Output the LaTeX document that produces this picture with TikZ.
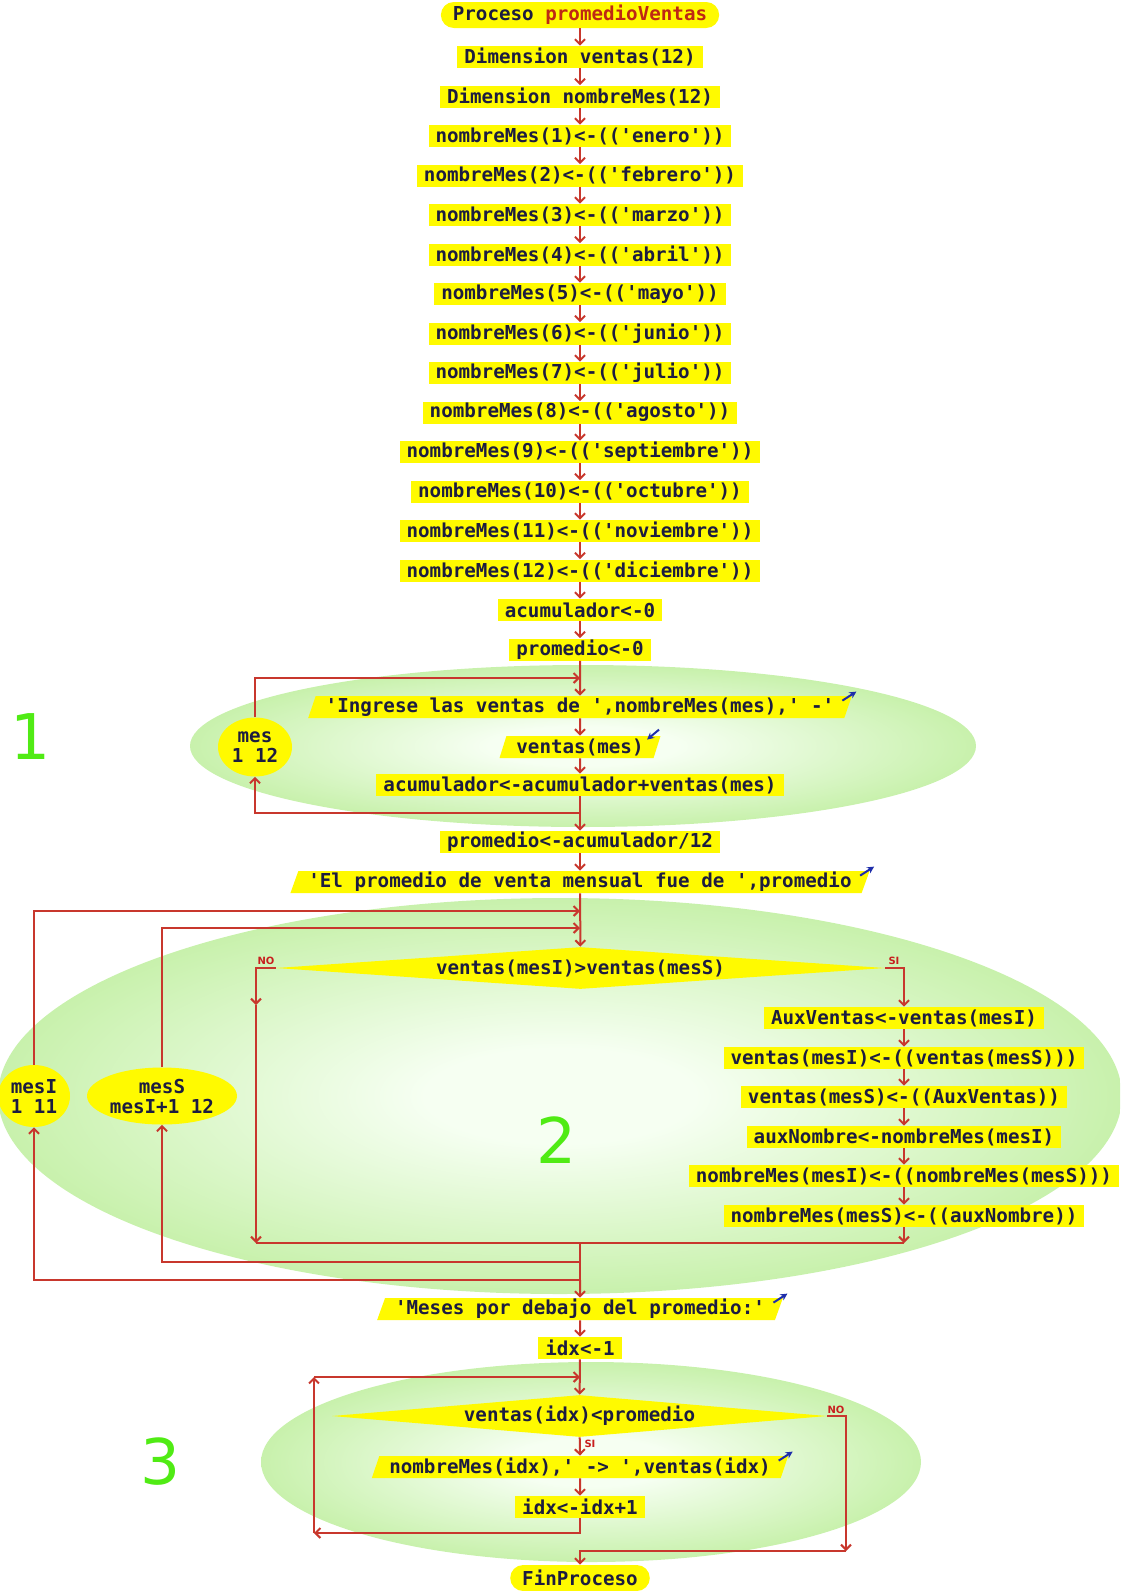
\documentclass[tikz,border=0pt]{standalone}
\usepackage{fontspec}
\setmonofont{DejaVu Sans Mono}
\setsansfont{DejaVu Sans}
\usetikzlibrary{shapes.geometric,arrows.meta}

\definecolor{boxy}{RGB}{255,250,0}
\definecolor{ink}{RGB}{28,28,64}
\definecolor{flow}{RGB}{200,55,45}
\definecolor{kw}{RGB}{190,40,20}
\definecolor{io}{RGB}{30,45,170}
\definecolor{num}{RGB}{80,235,20}
\definecolor{tagred}{RGB}{200,30,30}
\definecolor{gin}{RGB}{246,255,242}
\definecolor{gout}{RGB}{200,241,172}

% soft green glow behind each loop
\pgfdeclareradialshading{glow}{\pgfpoint{0bp}{0bp}}{color(0bp)=(gin); color(6bp)=(gin); color(25bp)=(gout); color(50bp)=(gout)}

\begin{document}
\begin{tikzpicture}[x=0.5pt,y=-0.5pt,
  font=\ttfamily\bfseries\fontsize{9.6pt}{11pt}\selectfont,
  base/.style={fill=boxy, text=ink, inner xsep=3.5pt, inner ysep=0pt, minimum height=11pt},
  stmt/.style={base, rectangle},
  term/.style={base, rectangle, rounded corners=6.5pt, minimum height=13pt, inner xsep=6pt},
  iobox/.style={base, trapezium, trapezium left angle=68, trapezium right angle=112,
    trapezium stretches body, inner xsep=5pt},
  cond/.style={fill=boxy, text=ink, diamond, aspect=12, inner sep=0pt, minimum height=21pt},
  loopvar/.style={fill=boxy, text=ink, ellipse, inner sep=0pt, align=center,
    font=\ttfamily\bfseries\fontsize{9.6pt}{10pt}\selectfont},
  flowline/.style={draw=flow, line width=1pt},
  arr/.style={flowline, -{Straight Barb[length=2.5pt,width=5pt]}},
  tag/.style={text=tagred, font=\sffamily\bfseries\fontsize{5pt}{5pt}\selectfont, inner sep=0pt},
  zonenum/.style={text=num, font=\sffamily\fontsize{31.5pt}{31.5pt}\selectfont, inner sep=0pt},
  sign/.style={draw=io, line width=1pt, -{Stealth[length=3.5pt,width=3.5pt]}}
]
\clip (0,0) rectangle (1120,1591);

% loop zones
\shade[shading=glow] (583,746) ellipse [x radius=196.5pt, y radius=40.5pt];
\shade[shading=glow] (560,1096) ellipse [x radius=281pt, y radius=99pt];
\shade[shading=glow] (591,1462) ellipse [x radius=165pt, y radius=50pt];

\node[zonenum] (z1) at (31,737) {1};
\node[zonenum] (z2) at (557,1140) {2};
\node[zonenum] (z3) at (161,1462) {3};

% sequential part
\node[term] (proc) at (580,15) {Proceso \textcolor{kw}{promedioVentas}};
\node[stmt] (dv) at (580,57) {Dimension ventas(12)};
\node[stmt] (dn) at (580,96.5) {Dimension nombreMes(12)};
\node[stmt] (m1) at (580,136) {nombreMes(1)<-(('enero'))};
\node[stmt] (m2) at (580,175.5) {nombreMes(2)<-(('febrero'))};
\node[stmt] (m3) at (580,215) {nombreMes(3)<-(('marzo'))};
\node[stmt] (m4) at (580,254.5) {nombreMes(4)<-(('abril'))};
\node[stmt] (m5) at (580,294) {nombreMes(5)<-(('mayo'))};
\node[stmt] (m6) at (580,333.5) {nombreMes(6)<-(('junio'))};
\node[stmt] (m7) at (580,373) {nombreMes(7)<-(('julio'))};
\node[stmt] (m8) at (580,412.5) {nombreMes(8)<-(('agosto'))};
\node[stmt] (m9) at (580,452) {nombreMes(9)<-(('septiembre'))};
\node[stmt] (m10) at (580,491.5) {nombreMes(10)<-(('octubre'))};
\node[stmt] (m11) at (580,531) {nombreMes(11)<-(('noviembre'))};
\node[stmt] (m12) at (580,570.5) {nombreMes(12)<-(('diciembre'))};
\node[stmt] (acc0) at (580,610) {acumulador<-0};
\node[stmt] (prom0) at (580,649.5) {promedio<-0};

\draw[arr] (proc) -- (dv);
\draw[arr] (dv) -- (dn);
\draw[arr] (dn) -- (m1);
\draw[arr] (m1) -- (m2);
\draw[arr] (m2) -- (m3);
\draw[arr] (m3) -- (m4);
\draw[arr] (m4) -- (m5);
\draw[arr] (m5) -- (m6);
\draw[arr] (m6) -- (m7);
\draw[arr] (m7) -- (m8);
\draw[arr] (m8) -- (m9);
\draw[arr] (m9) -- (m10);
\draw[arr] (m10) -- (m11);
\draw[arr] (m11) -- (m12);
\draw[arr] (m12) -- (acc0);
\draw[arr] (acc0) -- (prom0);

% loop 1: read the sales
\node[iobox] (ing) at (580,707) {'Ingrese las ventas de ',nombreMes(mes),' -'};
\node[iobox] (vmes) at (580,747) {ventas(mes)};
\node[stmt] (acc) at (580,785) {acumulador<-acumulador+ventas(mes)};
\node[loopvar, minimum width=37pt, minimum height=29.5pt] (mes) at (255,747) {mes\\1 12};
\coordinate (l1in) at (580,678);
\coordinate (l1out) at (580,813);

\draw[arr] (prom0) -- (ing);
\draw[arr] (mes.north) |- (l1in);
\draw[arr] (ing) -- (vmes);
\draw[arr] (vmes) -- (acc);
\draw[arr] (l1out) -| (mes.south);

\node[stmt] (p12) at (580,842) {promedio<-acumulador/12};
\node[iobox] (elp) at (580,882) {'El promedio de venta mensual fue de ',promedio};
\draw[arr] (acc) -- (p12);
\draw[arr] (p12) -- (elp);

% loop 2: sort by sales
\node[loopvar, minimum width=36pt, minimum height=31pt] (mesI) at (34,1096) {mesI\\1 11};
\node[loopvar, minimum width=75pt, minimum height=28.5pt] (mesS) at (162,1096) {mesS\\mesI+1 12};
\node[cond, minimum width=304.5pt] (dec) at (580.5,968) {ventas(mesI)>ventas(mesS)};
\coordinate (l2a) at (580,911);
\coordinate (l2b) at (580,928);
\draw[arr] (elp) -- (dec);
\draw[arr] (mesI.north) |- (l2a);
\draw[arr] (mesS.north) |- (l2b);

\node[stmt] (s1) at (904,1018) {AuxVentas<-ventas(mesI)};
\node[stmt] (s2) at (904,1058) {ventas(mesI)<-((ventas(mesS)))};
\node[stmt] (s3) at (904,1097) {ventas(mesS)<-((AuxVentas))};
\node[stmt] (s4) at (904,1137) {auxNombre<-nombreMes(mesI)};
\node[stmt] (s5) at (904,1176) {nombreMes(mesI)<-((nombreMes(mesS)))};
\node[stmt] (s6) at (904,1216) {nombreMes(mesS)<-((auxNombre))};

\coordinate (noA) at (256,1005);
\coordinate (noB) at (256,1243);
\coordinate (siB) at (904,1243);
\coordinate (j2) at (580,1243);
\coordinate (l2c) at (580,1262);
\coordinate (l2d) at (580,1280);

\draw[arr] (dec.west) -| (noA);
\draw[arr] (noA) -- (noB);
\draw[arr] (dec.east) -| (s1);
\draw[arr] (s1) -- (s2);
\draw[arr] (s2) -- (s3);
\draw[arr] (s3) -- (s4);
\draw[arr] (s4) -- (s5);
\draw[arr] (s5) -- (s6);
\draw[arr] (s6) -- (siB);
\draw[flowline] (noB) -- (siB);
\draw[arr] (j2) -- (l2c) -| (mesS.south);
\draw[arr] (l2c) -- (l2d) -| (mesI.south);

\node[tag] (tno2) at (266,961) {NO};
\node[tag] (tsi2) at (894,961) {SI};

% loop 3: list the months below average
\node[iobox] (meses) at (580,1309) {'Meses por debajo del promedio:'};
\node[stmt] (idx1) at (580,1348) {idx<-1};
\node[cond, minimum width=247.5pt] (dec3) at (579.5,1416) {ventas(idx)<promedio};
\node[iobox] (outidx) at (580,1467) {nombreMes(idx),' -> ',ventas(idx)};
\node[stmt] (inc) at (580,1507) {idx<-idx+1};
\node[term] (fin) at (580,1578) {FinProceso};

\coordinate (l3in) at (580,1377);
\coordinate (l3bl) at (314,1533);
\coordinate (l3tl) at (314,1377);
\coordinate (no3) at (846,1551);

\draw[arr] (l2d) -- (meses);
\draw[arr] (meses) -- (idx1);
\draw[arr] (idx1) -- (dec3);
\draw[arr] (dec3) -- (outidx);
\draw[arr] (outidx) -- (inc);
\draw[arr] (inc.south) |- (l3bl);
\draw[arr] (l3bl) -- (l3tl);
\draw[arr] (l3tl) -- (l3in);
\draw[arr] (dec3.east) -| (no3);
\draw[arr] (no3) -| (fin);

\node[tag] (tno3) at (836,1410) {NO};
\node[tag] (tsi3) at (590,1444) {SI};

% screen / keyboard marks on the in-out boxes
\draw[sign] ([shift={(-5pt,-2.5pt)}]ing.top right corner) -- ++(7pt,4.5pt);
\draw[sign] ([shift={(-5pt,-2.5pt)}]elp.top right corner) -- ++(7pt,4.5pt);
\draw[sign] ([shift={(-5pt,-2.5pt)}]meses.top right corner) -- ++(7pt,4.5pt);
\draw[sign] ([shift={(-5pt,-2.5pt)}]outidx.top right corner) -- ++(7pt,4.5pt);
\draw[sign] ([shift={(-1pt,3pt)}]vmes.top right corner) -- ++(-6pt,-5pt);
\end{tikzpicture}
\end{document}
